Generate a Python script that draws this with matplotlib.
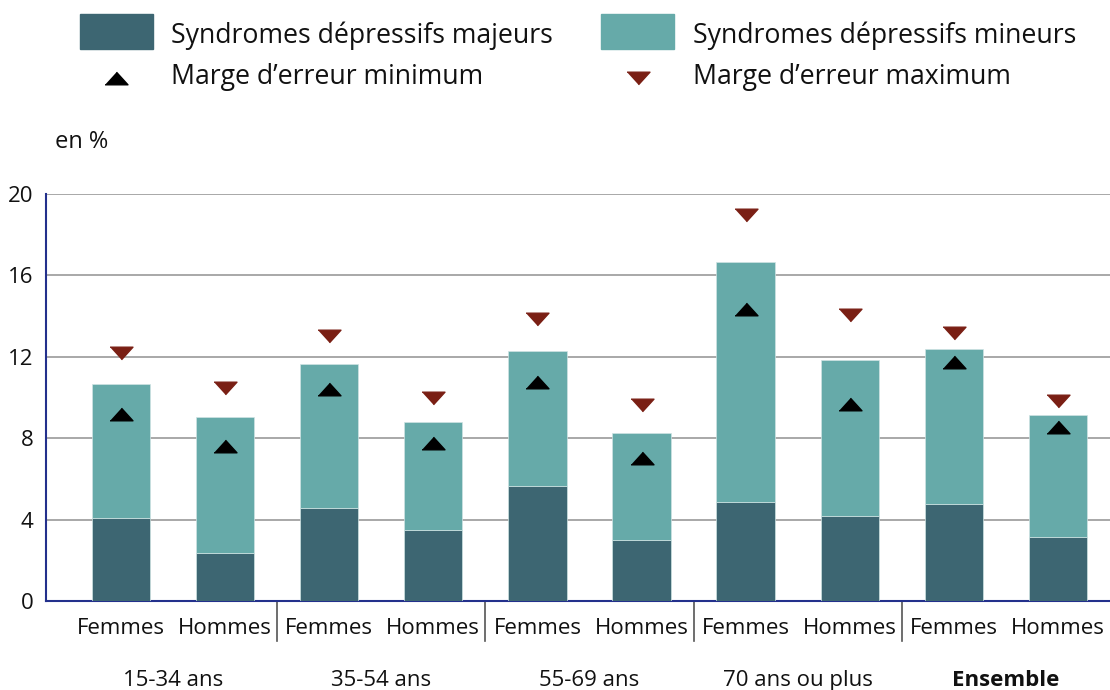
import matplotlib
matplotlib.use("Agg")
import matplotlib.pyplot as plt
from matplotlib.patches import Rectangle
import numpy as np

plt.rcParams['font.family'] = ['Open Sans', 'DejaVu Sans']

groups = ['15-34 ans', '35-54 ans', '55-69 ans', '70 ans ou plus', 'Ensemble']
sexes = ['Femmes', 'Hommes']
majeurs = [4.09, 2.37, 4.57, 3.49, 5.65, 3.0, 4.88, 4.19, 4.77, 3.13]
total = [10.66, 9.03, 11.65, 8.8, 12.29, 8.26, 16.66, 11.84, 12.4, 9.12]
mineurs = [t - m for t, m in zip(total, majeurs)]
err_min = [9.2, 7.6, 10.4, 7.76, 10.76, 7.03, 14.35, 9.66, 11.73, 8.57]
err_max = [12.2, 10.47, 13.0, 9.98, 13.86, 9.63, 18.97, 14.05, 13.18, 9.82]

dark = '#3d6672'
light = '#66aaa9'
red = '#7a1f14'
navy = '#23308c'

up_tri = [(-1, -0.55), (1, -0.55), (0, 0.55)]
down_tri = [(-1, 0.55), (1, 0.55), (0, -0.55)]

W, H = 1110, 690
fig = plt.figure(figsize=(W / 100, H / 100), dpi=100)
ax = fig.add_axes([46 / W, 1 - 601 / H, 1 - 46 / W, (601 - 194) / H])

x = np.arange(len(total))
ax.bar(x, majeurs, width=0.56, color=dark, edgecolor='#cfe3e3', linewidth=0.5, zorder=3)
ax.bar(x, mineurs, width=0.56, bottom=majeurs, color=light, edgecolor='#cfe3e3',
       linewidth=0.5, zorder=3)
ax.plot(x, err_min, ls='none', marker=up_tri, ms=16.5, color='black', zorder=4)
ax.plot(x, err_max, ls='none', marker=down_tri, ms=16.5, color=red, zorder=4)

ax.set_xlim(-0.72, 9.5)
ax.set_ylim(0, 20)
ax.set_yticks(range(0, 21, 4))
ax.yaxis.grid(True, color='#9a9a9a', linewidth=1.2, zorder=0)
ax.set_axisbelow(True)
for s in ['top', 'right']:
    ax.spines[s].set_visible(False)
for s in ['left', 'bottom']:
    ax.spines[s].set_color(navy)
    ax.spines[s].set_linewidth(1.5)
ax.tick_params(axis='y', length=0, labelsize=16, pad=9, colors='#111111')
ax.set_xticks(x)
ax.set_xticklabels([sexes[i % 2] for i in x], fontsize=16)
ax.tick_params(axis='x', length=0, pad=12, colors='#111111')

# group separators and group labels
for k in range(1, len(groups)):
    ax.plot([2 * k - 0.5] * 2, [0, -1.95], color='#555555', lw=1.2,
            clip_on=False, zorder=1)
for k, g in enumerate(groups):
    ax.text(2 * k + 0.5, -3.92, g, ha='center', va='center', fontsize=16,
            fontweight='bold' if g == 'Ensemble' else 'normal', color='#111111')

fig.text(55 / W, 1 - 142 / H, 'en %', fontsize=17, va='center', ha='left', color='#111111')

# legend drawn in pixel space
lg = fig.add_axes([0, 0, 1, 1])
lg.set_xlim(0, W)
lg.set_ylim(H, 0)
lg.axis('off')
lg.add_patch(Rectangle((80, 14), 73, 35, color=dark))
lg.add_patch(Rectangle((601, 14), 73, 35, color=light))
lg.plot([116], [78], ls='none', marker=up_tri, ms=16.5, color='black')
lg.plot([638], [78], ls='none', marker=down_tri, ms=16.5, color=red)
for (tx, ty, label) in [(171, 36, 'Syndromes dépressifs majeurs'),
                        (693, 36, 'Syndromes dépressifs mineurs'),
                        (171, 77, 'Marge d\u2019erreur minimum'),
                        (693, 77, 'Marge d\u2019erreur maximum')]:
    lg.text(tx, ty, label, fontsize=19.2, va='center', ha='left', color='#111111')

fig.savefig('out.png', dpi=100)
